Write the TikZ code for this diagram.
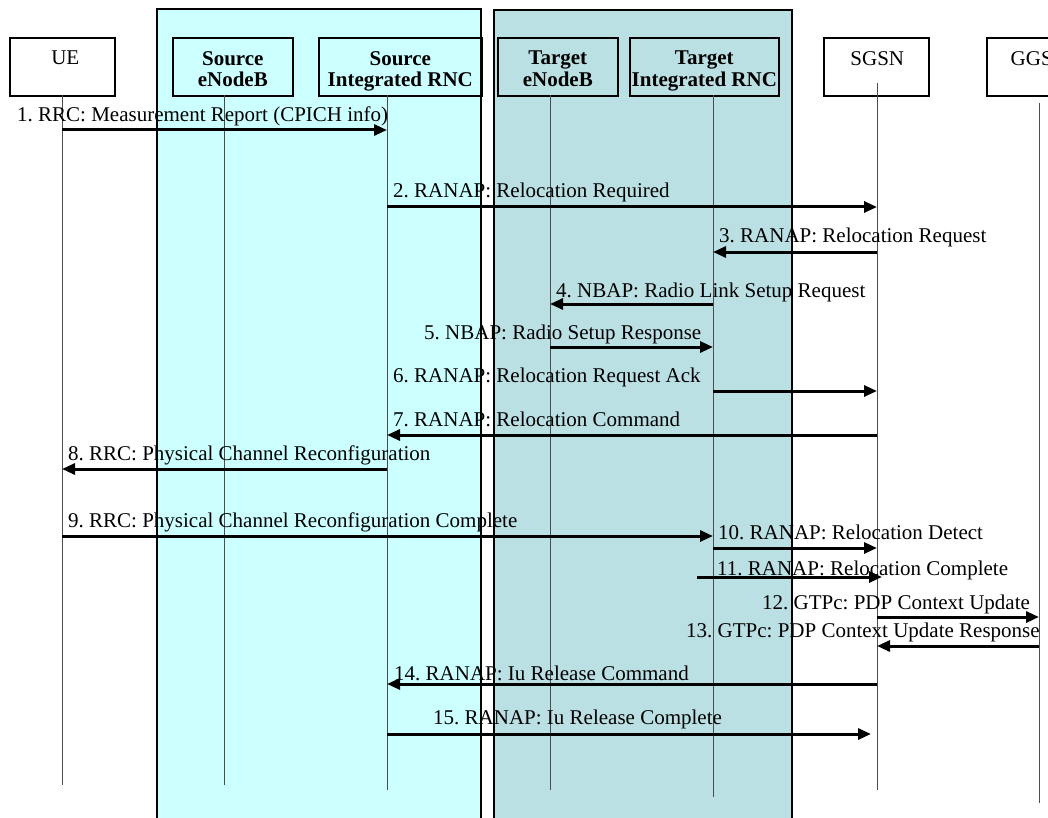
\documentclass[tikz,border=0pt]{standalone}
\usepackage{fontspec}
\setmainfont{Liberation Serif}
\usetikzlibrary{arrows.meta,calc}
\definecolor{srcfill}{RGB}{204,255,255}
\definecolor{tgtfill}{RGB}{187,224,227}
\begin{document}
\frenchspacing
\begin{tikzpicture}[x=1pt,y=-1pt,
  font=\fontsize{21}{21.5}\selectfont\frenchspacing,
  group/.style={draw=black, line width=2.2pt},
  entity/.style={draw=black, line width=1.6pt, anchor=north west, inner sep=0pt,
                 minimum height=58pt},
  entitytext/.style={anchor=north, align=center, inner sep=0pt},
  life/.style={draw=black!70, line width=1pt},
  msg/.style={line width=3pt, -{Triangle[length=13pt,width=11pt]}},
  msgtext/.style={anchor=base west, inner sep=0pt}
]
\useasboundingbox (0,0) rectangle (1048,818);

% groups
\fill[srcfill] (157,9) rectangle (481,830);
\draw[group] (157,9) rectangle (481,830);
\fill[tgtfill] (494,10) rectangle (792,830);
\draw[group] (494,10) rectangle (792,830);

% entity boxes
\node[entity, minimum width=105pt] (ue) at (9,37) {};
\node[entity, minimum width=120pt] (srcenb) at (172,37) {};
\node[entity, minimum width=163pt] (srcrnc) at (318,37) {};
\node[entity, minimum width=120pt] (tgtenb) at (497,37) {};
\node[entity, minimum width=149pt] (tgtrnc) at (629,37) {};
\node[entity, minimum width=105pt] (sgsn) at (823,37) {};
\node[entity, minimum width=105pt] (ggsn) at (986,37) {};

\node[entitytext] (ueT) at ($(ue.north)+(3,14)$) {UE};
\node[entitytext, font=\fontsize{21}{21.5}\selectfont\bfseries] (srcenbT) at ($(srcenb.north)+(0,14)$) {Source\\eNodeB};
\node[entitytext, font=\fontsize{21}{21.5}\selectfont\bfseries] (srcrncT) at ($(srcrnc.north)+(0,14)$) {Source\\Integrated RNC};
\node[entitytext, font=\fontsize{21}{21.5}\selectfont\bfseries] (tgtenbT) at ($(tgtenb.north)+(0,14)$) {Target\\eNodeB};
\node[entitytext, font=\fontsize{21}{21.5}\selectfont\bfseries] (tgtrncT) at ($(tgtrnc.north)+(0,14)$) {Target\\Integrated RNC};
\node[entitytext] (sgsnT) at ($(sgsn.north)+(1,14)$) {SGSN};
\node[entitytext] (ggsnT) at ($(ggsn.north)+(0,14)$) {GGSN};

% lifelines
\coordinate (ueTop) at (62,95);      \coordinate (ueBot) at (62,785);
\coordinate (srcenbTop) at (224,95); \coordinate (srcenbBot) at (224,785);
\coordinate (srcrncTop) at (387,95); \coordinate (srcrncBot) at (387,790);
\coordinate (tgtenbTop) at (550,95); \coordinate (tgtenbBot) at (550,790);
\coordinate (tgtrncTop) at (713,95); \coordinate (tgtrncBot) at (713,797);
\coordinate (sgsnTop) at (877,83);   \coordinate (sgsnBot) at (877,790);
\coordinate (ggsnTop) at (1039,103); \coordinate (ggsnBot) at (1039,803);
\foreach \n in {ue,srcenb,srcrnc,tgtenb,tgtrnc,sgsn,ggsn}
  \draw[life] (\n Top) -- (\n Bot);

% message rows
\coordinate (m1) at (0,130);
\coordinate (m2) at (0,207);
\coordinate (m3) at (0,252);
\coordinate (m4) at (0,304);
\coordinate (m5) at (0,347);
\coordinate (m6) at (0,391);
\coordinate (m7) at (0,435);
\coordinate (m8) at (0,469);
\coordinate (m9) at (0,536);
\coordinate (m10) at (0,548);
\coordinate (m11) at (0,577);
\coordinate (m12) at (0,617);
\coordinate (m13) at (0,646);
\coordinate (m14) at (0,684);
\coordinate (m15) at (0,734);

% labels
\node[msgtext] (l1) at (17,122) {1. RRC: Measurement Report (CPICH info)};
\node[msgtext] (l2) at (393,198) {2. RANAP: Relocation Required};
\node[msgtext] (l3) at (719,243) {3. RANAP: Relocation Request};
\node[msgtext] (l4) at (556,297) {4. NBAP: Radio Link Setup Request};
\node[msgtext] (l5) at (424,339) {5. NBAP: Radio Setup Response};
\node[msgtext] (l6) at (393,382) {6. RANAP: Relocation Request Ack};
\node[msgtext] (l7) at (393,426) {7. RANAP: Relocation Command};
\node[msgtext] (l8) at (68,460) {8. RRC: Physical Channel Reconfiguration};
\node[msgtext] (l9) at (68,527) {9. RRC: Physical Channel Reconfiguration Complete};
\node[msgtext] (l10) at (718,539) {10. RANAP: Relocation Detect};
\node[msgtext] (l11) at (717,575) {11. RANAP: Relocation Complete};
\node[msgtext] (l12) at (762,609) {12. GTPc: PDP Context Update};
\node[msgtext] (l13) at (686,637) {13. GTPc: PDP Context Update Response};
\node[msgtext] (l14) at (394,680) {14. RANAP: Iu Release Command};
\node[msgtext] (l15) at (433,724) {15. RANAP: Iu Release Complete};

% messages
\draw[msg] (ueBot |- m1) -- (srcrncBot |- m1);
\draw[msg] (srcrncBot |- m2) -- (sgsnBot |- m2);
\draw[msg] (sgsnBot |- m3) -- (tgtrncBot |- m3);
\draw[msg] (tgtrncBot |- m4) -- (tgtenbBot |- m4);
\draw[msg] (tgtenbBot |- m5) -- (tgtrncBot |- m5);
\draw[msg] (tgtrncBot |- m6) -- (sgsnBot |- m6);
\draw[msg] (sgsnBot |- m7) -- (srcrncBot |- m7);
\draw[msg] (srcrncBot |- m8) -- (ueBot |- m8);
\draw[msg] (ueBot |- m9) -- (tgtrncBot |- m9);
\draw[msg] (tgtrncBot |- m10) -- (sgsnBot |- m10);
\draw[msg] ($(tgtrncBot |- m11)+(-16,0)$) -- ($(sgsnBot |- m11)+(5,0)$);
\draw[msg] (sgsnBot |- m12) -- (ggsnBot |- m12);
\draw[msg] (ggsnBot |- m13) -- (sgsnBot |- m13);
\draw[msg] (sgsnBot |- m14) -- (srcrncBot |- m14);
\draw[msg, shorten >=6pt] (srcrncBot |- m15) -- (sgsnBot |- m15);
\end{tikzpicture}
\end{document}
